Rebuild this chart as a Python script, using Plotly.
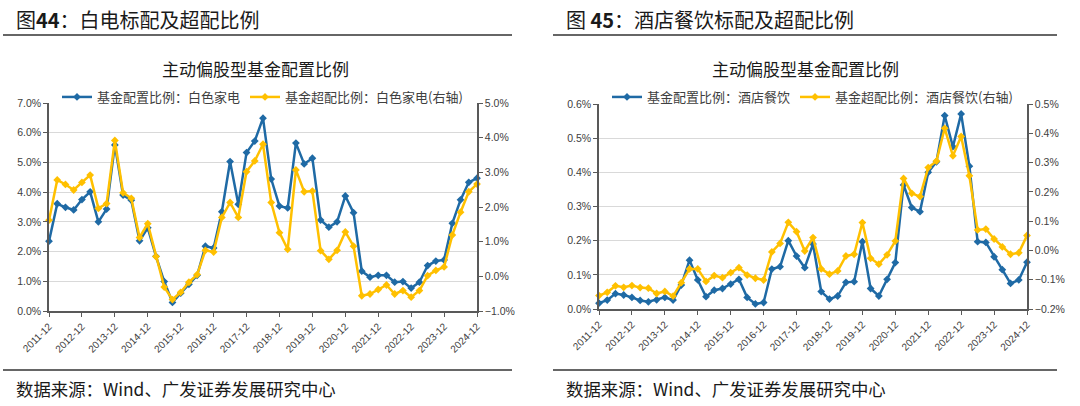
import plotly.graph_objects as go

# quarterly points, 2011-12 .. 2024-12
quarters = [f"{y}-{m:02d}" for y in range(2011, 2025) for m in (3, 6, 9, 12)]
quarters = quarters[3:]
year_ticks = [q for q in quarters if q.endswith("-12")]

# 白色家电 (%)
appliance_alloc = [2.35, 3.61, 3.49, 3.40, 3.75, 4.01, 3.00, 3.43, 5.59, 3.90,
                   3.73, 2.36, 2.80, 1.84, 0.99, 0.29, 0.60, 0.90, 1.20, 2.18,
                   2.12, 3.34, 5.03, 3.59, 5.33, 5.72, 6.49, 4.44, 3.53, 3.47,
                   5.65, 4.95, 5.14, 3.06, 2.82, 3.00, 3.87, 3.31, 1.34, 1.14,
                   1.20, 1.20, 0.97, 0.99, 0.77, 0.97, 1.53, 1.68, 1.72, 2.95,
                   3.74, 4.33, 4.47]
appliance_over = [1.62, 2.78, 2.65, 2.49, 2.71, 2.92, 1.96, 2.10, 3.92, 2.41,
                  2.25, 1.12, 1.52, 0.57, -0.31, -0.67, -0.46, -0.17, 0.05, 0.75,
                  0.70, 1.70, 2.13, 1.70, 3.02, 3.33, 3.81, 2.13, 1.26, 0.78,
                  3.07, 2.44, 2.46, 0.74, 0.49, 0.75, 1.28, 0.87, -0.56, -0.51,
                  -0.38, -0.25, -0.51, -0.41, -0.60, -0.41, 0.02, 0.17, 0.27, 1.19,
                  1.85, 2.44, 2.66]

# 酒店餐饮 (%)
hotel_alloc = [0.017, 0.026, 0.045, 0.041, 0.034, 0.025, 0.021, 0.027, 0.034, 0.026,
               0.070, 0.143, 0.085, 0.036, 0.055, 0.060, 0.073, 0.087, 0.034, 0.015,
               0.019, 0.117, 0.124, 0.200, 0.155, 0.121, 0.190, 0.051, 0.029, 0.038,
               0.078, 0.080, 0.197, 0.060, 0.038, 0.087, 0.136, 0.363, 0.297, 0.285,
               0.400, 0.431, 0.566, 0.475, 0.571, 0.418, 0.197, 0.195, 0.153, 0.115,
               0.075, 0.085, 0.137]
hotel_over = [-0.154, -0.143, -0.121, -0.126, -0.120, -0.127, -0.129, -0.147, -0.140, -0.156,
              -0.110, -0.063, -0.063, -0.106, -0.086, -0.093, -0.076, -0.059, -0.084, -0.095,
              -0.101, -0.005, 0.024, 0.096, 0.064, -0.002, 0.044, -0.063, -0.081, -0.070,
              -0.019, -0.013, 0.095, -0.027, -0.047, -0.015, 0.032, 0.246, 0.195, 0.184,
              0.283, 0.305, 0.417, 0.323, 0.389, 0.255, 0.070, 0.073, 0.039, 0.012,
              -0.013, -0.008, 0.051]

BLUE = "#1f6aa5"
GOLD = "#ffc000"
W, H = 1080, 406
CJK = "Noto Sans CJK SC"
LAT = "Liberation Sans"


def px(x):
    return x / W


def py(y):
    return 1 - y / H


def line_trace(y, name, color, xaxis, yaxis, legend):
    return go.Scatter(x=quarters, y=y, name=name, mode="lines+markers",
                      line=dict(color=color, width=2.5),
                      marker=dict(symbol="diamond", size=6, color=color),
                      xaxis=xaxis, yaxis=yaxis, legend=legend, cliponaxis=False)


fig = go.Figure()
fig.add_trace(line_trace(appliance_alloc, "基金配置比例：白色家电", BLUE, "x", "y", "legend"))
fig.add_trace(line_trace(appliance_over, "基金超配比例：白色家电(右轴)", GOLD, "x", "y2", "legend"))
fig.add_trace(line_trace(hotel_alloc, "基金配置比例：酒店餐饮", BLUE, "x2", "y3", "legend2"))
fig.add_trace(line_trace(hotel_over, "基金超配比例：酒店餐饮(右轴)", GOLD, "x2", "y4", "legend2"))

tick_font = dict(family=LAT, size=10.5, color="#404040")
xcommon = dict(type="category", range=[0, len(quarters) - 1], tickvals=year_ticks,
               ticktext=year_ticks, tickangle=-45, showline=True, linecolor="#595959",
               linewidth=1.5, ticks="outside", ticklen=4, tickcolor="#595959",
               showgrid=False, tickfont=dict(family=LAT, size=10, color="#404040"))
ycommon = dict(showline=True, linecolor="#595959", linewidth=1.5, ticks="outside",
               ticklen=4, tickcolor="#595959", tickfont=tick_font, zeroline=False,
               ticksuffix="%", tickformat=".1f")

left_dom = [px(49), px(477)]
right_dom = [px(599), px(1027)]
legend_font = dict(family=CJK, size=13, color="#404040")

fig.update_layout(
    width=W, height=H, margin=dict(l=0, r=0, t=0, b=0, autoexpand=False),
    paper_bgcolor="white", plot_bgcolor="white",
    xaxis=dict(domain=left_dom, anchor="y", **xcommon),
    yaxis=dict(domain=[py(311), py(103)], range=[0, 7], dtick=1, anchor="x",
               showgrid=True, gridcolor="#d9d9d9", gridwidth=1.2, **ycommon),
    yaxis2=dict(overlaying="y", side="right", anchor="x", range=[-1, 5], dtick=1,
                showgrid=False, **ycommon),
    xaxis2=dict(domain=right_dom, anchor="y3", **xcommon),
    yaxis3=dict(domain=[py(309), py(104)], range=[0, 0.6], dtick=0.1, anchor="x2",
                showgrid=True, gridcolor="#d9d9d9", gridwidth=1.2, **ycommon),
    yaxis4=dict(overlaying="y3", side="right", anchor="x2", range=[-0.2, 0.5], dtick=0.1,
                showgrid=False, **ycommon),
    legend=dict(orientation="h", x=px(57), y=py(97), xanchor="left", yanchor="middle",
                font=legend_font, bgcolor="rgba(0,0,0,0)", itemwidth=30, tracegroupgap=0),
    legend2=dict(orientation="h", x=px(607), y=py(97), xanchor="left", yanchor="middle",
                 font=legend_font, bgcolor="rgba(0,0,0,0)", itemwidth=30, tracegroupgap=0),
    showlegend=True,
)

# panel headings, chart titles and sources
texts = [
    ("图<b>44</b>：白电标配及超配比例", 14, 19, "left", 20),
    ("图 <b>45</b>：酒店餐饮标配及超配比例", 564, 19, "left", 20),
    ("主动偏股型基金配置比例", 255, 68, "center", 17),
    ("主动偏股型基金配置比例", 805, 68, "center", 17),
    ("数据来源：Wind、广发证券发展研究中心", 14, 388, "left", 17.4),
    ("数据来源：Wind、广发证券发展研究中心", 564, 388, "left", 17.4),
]
for t, x, y, anchor, size in texts:
    fig.add_annotation(text=t, x=px(x), y=py(y), xref="paper", yref="paper",
                       xanchor=anchor, yanchor="middle", showarrow=False,
                       font=dict(family=CJK, size=size, color="#1a1a1a"))

for x0, x1 in [(3, 512), (553, 1057)]:
    for y in (35, 370):
        fig.add_shape(type="line", xref="paper", yref="paper",
                      x0=px(x0), x1=px(x1), y0=py(y), y1=py(y),
                      line=dict(color="#333333", width=1.5))

# drop the default page margin so the figure fills the window exactly
fig.write_html("out.html", config={"displayModeBar": False},
               post_script="document.body.style.margin = '0';")
